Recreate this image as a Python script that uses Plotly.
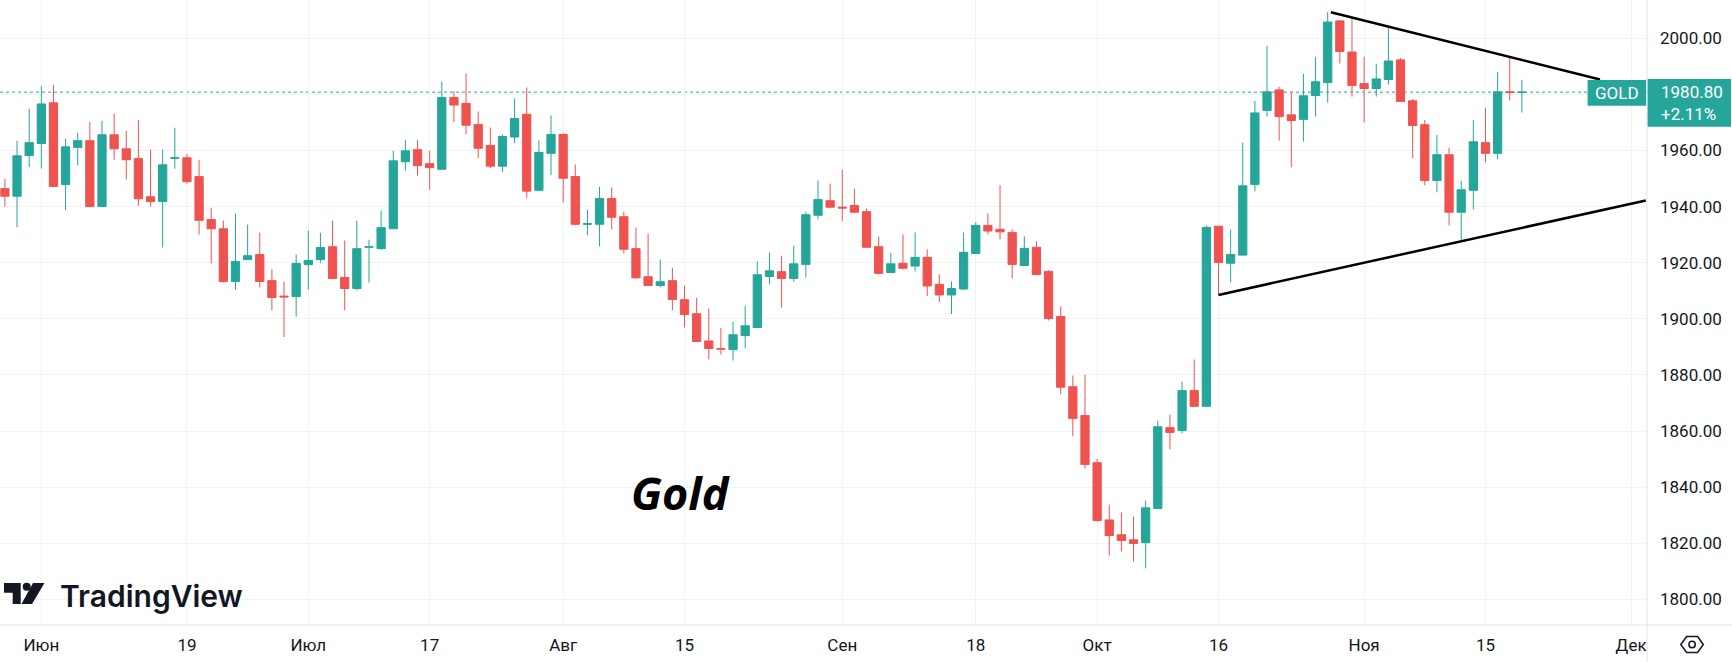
import pandas as pd
import plotly.graph_objects as go

# ---------------- data ----------------
dates = pd.bdate_range("2023-05-29", "2023-11-20")

open_ = [1946.4, 1943.7, 1958.2, 1962.5, 1977.0, 1947.9, 1961.1, 1963.5, 1940.0, 1965.6,
         1960.6, 1957.1, 1943.5, 1941.8, 1957.2, 1957.4, 1950.7, 1935.4, 1932.1, 1913.3,
         1921.1, 1922.9, 1913.6, 1908.1, 1907.9, 1919.3, 1921.1, 1925.7, 1914.7, 1910.8,
         1925.5, 1925.0, 1932.1, 1956.0, 1960.3, 1955.3, 1953.3, 1978.9, 1976.8, 1969.3,
         1961.8, 1954.4, 1964.8, 1972.9, 1945.8, 1959.0, 1965.7, 1950.7, 1933.7, 1933.7,
         1942.9, 1936.4, 1925.0, 1915.0, 1911.9, 1913.6, 1906.8, 1901.8, 1892.1, 1889.4,
         1889.0, 1894.0, 1896.9, 1915.1, 1916.8, 1914.4, 1919.4, 1936.9, 1942.1, 1939.8,
         1940.4, 1938.2, 1925.7, 1916.5, 1919.8, 1918.8, 1921.9, 1912.3, 1908.5, 1910.6,
         1923.3, 1933.3, 1931.9, 1930.8, 1919.0, 1925.5, 1916.9, 1900.8, 1875.8, 1865.5,
         1848.7, 1828.3, 1823.0, 1821.2, 1820.2, 1832.4, 1861.2, 1860.2, 1874.4, 1868.8,
         1933.0, 1919.8, 1922.7, 1947.9, 1974.3, 1981.6, 1972.7, 1971.1, 1979.6, 1984.2,
         2006.2, 1995.1, 1983.9, 1982.1, 1985.3, 1992.3, 1977.7, 1969.2, 1949.3, 1958.5,
         1938.0, 1945.8, 1962.8, 1959.0, 1980.9, 1980.7]

high = [1949.9, 1963.5, 1974.9, 1983.0, 1983.4, 1964.2, 1966.3, 1970.2, 1970.6, 1973.1,
        1967.0, 1970.9, 1960.3, 1960.3, 1968.1, 1958.8, 1956.7, 1939.6, 1935.0, 1937.5,
        1933.6, 1930.7, 1917.6, 1913.3, 1922.9, 1931.4, 1930.7, 1935.0, 1927.9, 1935.0,
        1928.2, 1938.6, 1959.9, 1963.8, 1963.8, 1959.9, 1984.6, 1981.1, 1987.5, 1973.9,
        1968.2, 1965.7, 1978.6, 1982.5, 1963.6, 1972.5, 1966.1, 1955.0, 1938.9, 1947.1,
        1946.8, 1938.2, 1932.5, 1930.4, 1921.1, 1918.2, 1911.8, 1907.5, 1903.6, 1896.8,
        1898.9, 1904.6, 1920.4, 1923.6, 1922.5, 1926.1, 1938.2, 1949.3, 1948.2, 1953.2,
        1946.4, 1939.3, 1929.3, 1923.6, 1930.1, 1930.8, 1924.8, 1915.8, 1913.3, 1930.8,
        1934.4, 1937.6, 1947.6, 1931.9, 1929.4, 1927.6, 1917.3, 1904.4, 1879.8, 1880.1,
        1850.1, 1833.8, 1831.0, 1829.5, 1835.2, 1863.7, 1865.8, 1877.6, 1885.5, 1933.3,
        1933.1, 1931.8, 1962.8, 1977.7, 1997.3, 1982.7, 1980.9, 1987.3, 1993.4, 2009.4,
        2006.5, 2006.9, 1993.4, 1990.9, 2003.9, 1993.0, 1978.4, 1970.9, 1965.6, 1961.0,
        1949.2, 1970.9, 1975.2, 1988.0, 1993.0, 1985.2]

low = [1940.0, 1932.6, 1954.0, 1953.6, 1947.0, 1938.7, 1954.7, 1939.9, 1939.9, 1956.7,
       1949.6, 1940.3, 1940.0, 1925.4, 1953.5, 1948.2, 1930.0, 1919.7, 1912.9, 1910.4,
       1921.0, 1911.2, 1903.0, 1893.5, 1900.8, 1910.4, 1920.0, 1914.2, 1903.0, 1910.1,
       1912.9, 1924.7, 1932.0, 1952.8, 1951.0, 1946.0, 1953.2, 1970.1, 1965.8, 1957.3,
       1953.7, 1952.3, 1962.6, 1943.0, 1945.7, 1951.2, 1941.5, 1933.3, 1929.8, 1925.8,
       1931.9, 1923.3, 1914.3, 1911.8, 1911.2, 1903.0, 1896.9, 1891.8, 1885.5, 1887.3,
       1885.1, 1889.4, 1896.8, 1912.3, 1904.0, 1913.3, 1914.8, 1935.5, 1939.4, 1934.8,
       1937.6, 1925.4, 1915.8, 1916.4, 1917.6, 1916.9, 1908.1, 1906.0, 1901.7, 1910.2,
       1923.0, 1930.1, 1928.3, 1914.4, 1918.9, 1915.5, 1899.4, 1873.1, 1858.1, 1846.7,
       1827.7, 1815.6, 1817.0, 1813.5, 1811.0, 1832.3, 1853.5, 1859.2, 1868.5, 1868.7,
       1908.5, 1913.0, 1922.6, 1945.4, 1972.1, 1963.5, 1954.0, 1963.2, 1972.1, 1977.1,
       1991.0, 1979.2, 1970.0, 1979.2, 1983.5, 1977.4, 1957.2, 1947.6, 1945.1, 1933.3,
       1928.0, 1939.0, 1955.8, 1956.8, 1977.8, 1973.5]

close = [1943.7, 1958.1, 1962.8, 1976.6, 1947.2, 1961.3, 1963.5, 1940.0, 1965.6, 1960.6,
         1956.7, 1942.8, 1941.8, 1954.9, 1957.4, 1948.9, 1935.1, 1932.1, 1913.3, 1920.4,
         1922.5, 1913.3, 1907.6, 1907.8, 1919.7, 1920.8, 1925.4, 1914.4, 1910.8, 1925.0,
         1925.7, 1932.5, 1956.3, 1959.9, 1954.6, 1953.9, 1978.9, 1976.2, 1969.0, 1960.8,
         1954.4, 1965.0, 1971.4, 1945.5, 1959.3, 1965.7, 1950.1, 1933.7, 1933.9, 1942.9,
         1936.2, 1924.8, 1914.6, 1911.9, 1913.2, 1906.9, 1901.5, 1891.9, 1889.4, 1889.2,
         1894.3, 1897.5, 1915.7, 1917.1, 1914.4, 1919.6, 1937.1, 1942.5, 1939.8, 1939.5,
         1938.0, 1925.5, 1916.2, 1919.6, 1918.0, 1921.9, 1911.7, 1908.5, 1910.8, 1923.7,
         1933.3, 1931.3, 1931.0, 1919.4, 1925.1, 1915.8, 1900.1, 1875.6, 1864.5, 1848.1,
         1828.1, 1822.7, 1821.0, 1819.9, 1832.6, 1861.5, 1859.5, 1874.4, 1868.8, 1932.6,
         1920.1, 1922.9, 1947.4, 1973.4, 1980.9, 1972.1, 1970.7, 1979.5, 1984.5, 2005.8,
         1995.3, 1983.2, 1982.1, 1985.5, 1991.9, 1977.5, 1968.9, 1949.3, 1958.5, 1938.0,
         1946.0, 1963.1, 1959.0, 1980.9, 1980.7, 1980.8]

tick_dates = ["2023-06-01", "2023-06-19", "2023-07-03", "2023-07-17", "2023-08-01",
              "2023-08-15", "2023-09-01", "2023-09-18", "2023-10-02", "2023-10-16",
              "2023-11-01", "2023-11-15", "2023-12-01"]
tick_labels = ["Июн", "19", "Июл", "17", "Авг", "15", "Сен", "18", "Окт", "16",
               "Ноя", "15", "Дек"]

price_ticks = [1800, 1820, 1840, 1860, 1880, 1900, 1920, 1940, 1960, 1980, 2000]
price_tick_labels = ["1800.00", "1820.00", "1840.00", "1860.00", "1880.00", "1900.00",
                     "1920.00", "1940.00", "1960.00", "", "2000.00"]

symbol = "GOLD"
last_price = 1980.80
change_text = "+2.11%"
chart_title = "Gold"
brand = "TradingView"

# trend lines drawn on the chart (start / end date-times and prices)
upper_line_x = ["2023-10-27 18:15", "2023-11-28 22:30"]
upper_line_y = [2009.3, 1985.3]
lower_line_x = ["2023-10-16 12:00", "2023-12-04 17:00"]
lower_line_y = [1908.5, 1942.2]

# ---------------- styling / layout ----------------
UP = "#26a69a"
DOWN = "#ef5350"
TEXT = "#131722"
GRID = "#f0f3fa"
BORDER = "#e0e3eb"
W, H = 1732, 662
PLOT_W, PLOT_H = 1646.7, 625.0


def px(x):
    return x / PLOT_W


def py(y):
    return (PLOT_H - y) / PLOT_H


x_centers = dates + pd.Timedelta(hours=12)
tick_vals = [pd.Timestamp(d) + pd.Timedelta(hours=12) for d in tick_dates]

fig = go.Figure(go.Candlestick(
    x=x_centers, open=open_, high=high, low=low, close=close,
    increasing=dict(line=dict(color=UP, width=1), fillcolor=UP),
    decreasing=dict(line=dict(color=DOWN, width=1), fillcolor=DOWN),
    hoverinfo="skip", showlegend=False,
))

fig.update_layout(
    width=W, height=H,
    margin=dict(l=0, r=W - PLOT_W, t=0, b=H - PLOT_H, pad=0),
    paper_bgcolor="white", plot_bgcolor="white",
    boxgap=0.32, boxgroupgap=0,
    hovermode=False, showlegend=False,
    font=dict(family="Roboto, sans-serif", color=TEXT, size=17),
    xaxis=dict(
        type="date",
        range=["2023-05-29 02:18", "2023-12-04 19:26"],
        rangebreaks=[dict(bounds=["sat", "mon"])],
        rangeslider=dict(visible=False),
        tickmode="array", tickvals=tick_vals, ticktext=tick_labels,
        showgrid=True, gridcolor=GRID, gridwidth=1,
        showline=False, zeroline=False, ticks="",
        tickfont=dict(size=17, color=TEXT),
        ticklabelstandoff=8,
    ),
    yaxis=dict(
        side="right",
        range=[1790.84, 2013.65],
        tickmode="array", tickvals=price_ticks, ticktext=price_tick_labels,
        showgrid=True, gridcolor=GRID, gridwidth=1,
        showline=False, zeroline=False, ticks="",
        tickfont=dict(size=17, color=TEXT),
        ticklabelstandoff=12,
    ),
)

shapes = []
# last price dotted line
shapes.append(dict(type="line", xref="paper", yref="y", x0=0, x1=1,
                   y0=last_price, y1=last_price, layer="below",
                   line=dict(color=UP, width=1, dash="dot")))
# trend lines
shapes.append(dict(type="line", xref="x", yref="y",
                   x0=upper_line_x[0], x1=upper_line_x[1],
                   y0=upper_line_y[0], y1=upper_line_y[1],
                   line=dict(color="black", width=2.5)))
shapes.append(dict(type="line", xref="x", yref="y",
                   x0=lower_line_x[0], x1=lower_line_x[1],
                   y0=lower_line_y[0], y1=lower_line_y[1],
                   line=dict(color="black", width=2.5)))
# axis borders
shapes.append(dict(type="line", xref="paper", yref="paper",
                   x0=0, x1=px(W), y0=0, y1=0, line=dict(color=BORDER, width=1)))
shapes.append(dict(type="line", xref="paper", yref="paper",
                   x0=1, x1=1, y0=py(H), y1=1, line=dict(color=BORDER, width=1)))
# symbol label box
shapes.append(dict(type="rect", xref="paper", yref="paper",
                   x0=px(1587.3), x1=px(1645.8), y0=py(105.7), y1=py(80),
                   fillcolor=UP, line=dict(width=0), layer="above"))
# price label box
shapes.append(dict(type="rect", xref="paper", yref="paper",
                   x0=px(1647.3), x1=px(1730.7), y0=py(126.7), y1=py(79),
                   fillcolor=UP, line=dict(width=0), layer="above"))


def path(pts):
    return "M " + " L ".join(f"{px(a):.5f},{py(b):.5f}" for a, b in pts) + " Z"


# TradingView logo mark
shapes.append(dict(type="path", xref="paper", yref="paper",
                   path=path([(4, 583), (20.7, 583), (20.7, 604), (12.7, 604),
                              (12.7, 592.7), (4, 592.7)]),
                   fillcolor=TEXT, line=dict(width=0)))
shapes.append(dict(type="circle", xref="paper", yref="paper",
                   x0=px(22.7), x1=px(30.7), y0=py(590.7), y1=py(582.7),
                   fillcolor=TEXT, line=dict(width=0)))
shapes.append(dict(type="path", xref="paper", yref="paper",
                   path=path([(33, 583), (44.5, 583), (32, 604), (21.5, 604)]),
                   fillcolor=TEXT, line=dict(width=0)))
# settings (hexagon) icon
shapes.append(dict(type="path", xref="paper", yref="paper",
                   path=path([(1680.5, 644.5), (1686.3, 636.5), (1697.3, 636.5),
                              (1703, 644.5), (1697.3, 652.5), (1686.3, 652.5)]),
                   line=dict(color=TEXT, width=1.5)))
shapes.append(dict(type="circle", xref="paper", yref="paper",
                   x0=px(1688.6), x1=px(1695), y0=py(647.7), y1=py(641.3),
                   line=dict(color=TEXT, width=1.5)))
fig.update_layout(shapes=shapes)

annotations = [
    dict(text=f"<b><i>{chart_title}</i></b>", xref="paper", yref="paper",
         x=px(680.5), y=py(493), xanchor="center", yanchor="middle", showarrow=False,
         font=dict(family="Open Sans", size=45, color="black")),
    dict(text=brand, xref="paper", yref="paper",
         x=px(58), y=py(595.5), xanchor="left", yanchor="middle", showarrow=False,
         font=dict(family="Inter", size=30, color=TEXT, weight=600)),
    dict(text=symbol, xref="paper", yref="paper",
         x=px(1616.6), y=py(92.9), xanchor="center", yanchor="middle", showarrow=False,
         font=dict(size=17, color="white")),
    dict(text=f"{last_price:.2f}<br>{change_text}", xref="paper", yref="paper",
         x=px(1658.5), y=py(103), xanchor="left", yanchor="middle", showarrow=False,
         align="left", font=dict(size=17, color="white")),
]
fig.update_layout(annotations=annotations)

fig.write_html("out.html", config={"displayModeBar": False},
               post_script="document.body.style.margin='0';")
